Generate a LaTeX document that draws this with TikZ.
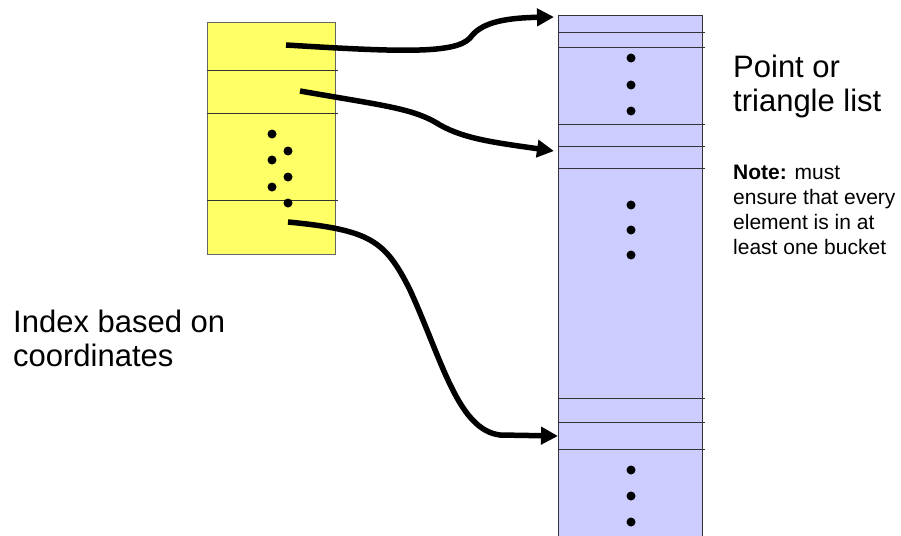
\documentclass[tikz,border=0pt]{standalone}
\usepackage{fontspec}
\setmainfont{Liberation Sans}
\usetikzlibrary{arrows.meta}

\definecolor{idxyellow}{RGB}{255,255,102}
\definecolor{listblue}{RGB}{204,204,255}

\tikzset{
    cellline/.style={draw=black!80, line width=0.8pt},
    pointer/.style={->, line width=5.5pt},
    bigtext/.style={font=\fontsize{31}{34}\selectfont, align=left, inner sep=0pt},
    notetext/.style={font=\fontsize{21}{25}\selectfont, align=left, inner sep=0pt}
}

\begin{document}
\begin{tikzpicture}[x=1pt, y=-1pt, >={Triangle[length=17pt,width=17pt]}]
    \useasboundingbox (0,0) rectangle (901,535);

    % index based on coordinates
    \draw[fill=idxyellow, draw=black!60, line width=0.8pt] (207,22) rectangle (335,254);
    \foreach \y in {70,113,200}
        \draw[cellline] (207,\y) -- (338,\y);
    \foreach \p in {(272,134),(288,151),(272,160),(288,177),(272,187),(288,203)}
        \fill \p circle[radius=4.5pt];

    % point or triangle list
    \fill[listblue] (558,15) rectangle (702,536);
    \draw[cellline] (558,536) -- (558,15) -- (702,15) -- (702,536);
    \foreach \y in {32,47,124,146,168,398,422,449}
        \draw[cellline] (558,\y) -- (705,\y);
    \foreach \y in {58,85,111,205,230,255,470,496,522}
        \fill (631,\y) circle[radius=4.5pt];

    \coordinate (src1) at (286,45);
    \coordinate (src2) at (300,91);
    \coordinate (src3) at (288,222);
    \coordinate (dst1) at (554,17);
    \coordinate (dst2) at (554,151);
    \coordinate (dst3) at (558,436);

    \draw[pointer] (src1) .. controls (400,52) and (455,54) .. (470,38)
        .. controls (480,24) and (500,18) .. (dst1);
    \draw[pointer] (src2) .. controls (380,105) and (410,108) .. (435,122)
        .. controls (460,138) and (490,142) .. (dst2);
    \draw[pointer] (src3) .. controls (370,230) and (385,240) .. (410,290)
        .. controls (442,360) and (458,430) .. (500,435) -- (dst3);

    \node[bigtext, anchor=north west] (listlabel) at (733,55) {Point or\\triangle list};
    \node[bigtext, anchor=north west] (idxlabel) at (13,310) {Index based on\\coordinates};
    \node[notetext, anchor=north west] (note) at (733,165)
        {\textbf{Note:} must\\ensure that every\\element is in at\\least one bucket};
\end{tikzpicture}
\end{document}
